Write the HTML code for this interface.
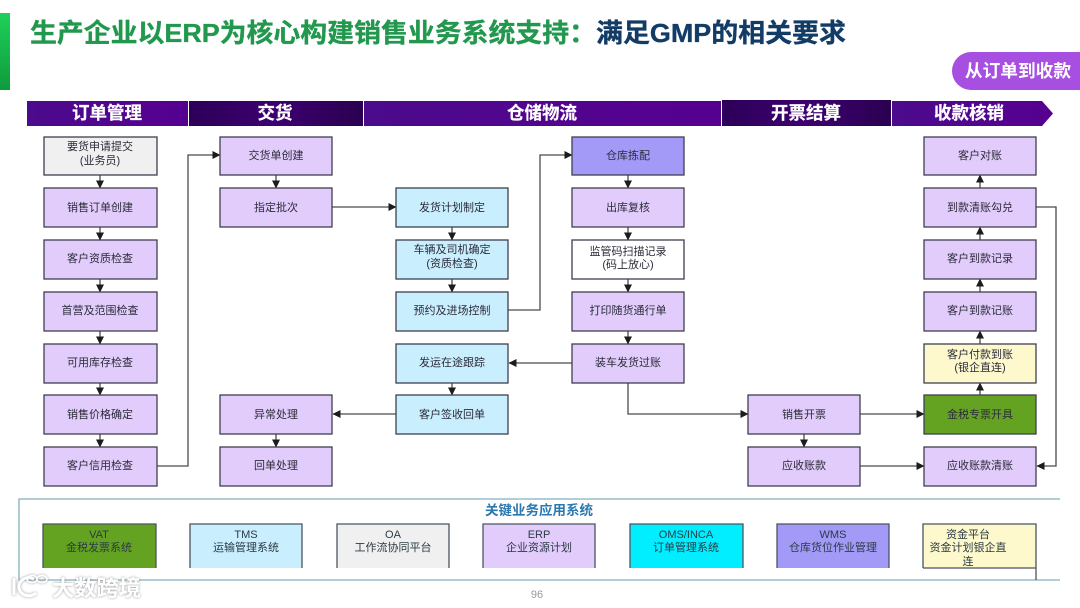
<!DOCTYPE html>
<html><head><meta charset="utf-8">
<style>
html,body{margin:0;padding:0;background:#fff;width:1080px;height:608px;overflow:hidden}
svg{display:block;filter:blur(.35px)}
text{font-family:"Liberation Sans","Noto Sans CJK SC",sans-serif}
.n rect{stroke:#3f3f50;stroke-width:1.3}
.n text{font-size:11px;fill:#2b2b3a;text-anchor:middle}
.h text{font-size:17.500px;font-weight:700;fill:#fff;text-anchor:middle;stroke:#fff;stroke-width:.2}
.c path{fill:none;stroke:#4a4a4a;stroke-width:1.3}
.s text{font-size:11px;fill:#2b3a44;text-anchor:middle}
.s path{fill:none;stroke:#4a5560;stroke-width:1.3}
</style></head><body>
<svg width="1080" height="608" viewBox="0 0 1080 608" xmlns="http://www.w3.org/2000/svg">
<defs>
<linearGradient id="g" x1="0" y1="0" x2="0" y2="1"><stop offset="0" stop-color="#1fd05a"/><stop offset="1" stop-color="#0f9a3c"/></linearGradient>
<linearGradient id="p1" x1="0" y1="0" x2="1" y2="0"><stop offset="0" stop-color="#4c0a8c"/><stop offset="1" stop-color="#560090"/></linearGradient>
<linearGradient id="p2" x1="0" y1="0" x2="1" y2="0"><stop offset="0" stop-color="#2c0058"/><stop offset=".5" stop-color="#3d0070"/><stop offset="1" stop-color="#2a0050"/></linearGradient>
<marker id="a" viewBox="0 0 8 8" refX="7.500" refY="4" markerWidth="8" markerHeight="8" markerUnits="userSpaceOnUse" orient="auto"><path d="M0 0L8 4L0 8Z" fill="#1c1c1c"/></marker>
<filter id="w"><feDropShadow dx="0" dy="0" stdDeviation="1.200" flood-color="#888" flood-opacity=".9"/></filter>
</defs>

<rect x="0" y="13" width="10" height="77" fill="url(#g)"/>
<text x="30" y="42" font-size="26" font-weight="700" fill="#22984e" stroke="#22984e" stroke-width=".35" textLength="566" lengthAdjust="spacingAndGlyphs">生产企业以ERP为核心构建销售业务系统支持：</text>
<text x="596" y="42" font-size="26" font-weight="700" fill="#123c66" stroke="#123c66" stroke-width=".35" textLength="250" lengthAdjust="spacingAndGlyphs">满足GMP的相关要求</text>

<path d="M1080 52H971a19 19 0 0 0 0 38H1080Z" fill="#a64fe0"/>
<text x="1018" y="77" font-size="17.700" font-weight="700" fill="#fff" text-anchor="middle">从订单到收款</text>

<g class="h">
<rect x="27" y="101" width="161" height="25" fill="url(#p1)"/>
<rect x="189" y="101" width="174" height="25" fill="url(#p2)"/>
<rect x="364" y="101" width="357" height="25" fill="url(#p1)"/>
<rect x="722" y="100" width="169" height="26" fill="url(#p2)"/>
<path d="M892 101H1042L1053 113.500L1042 126H892Z" fill="url(#p1)"/>
<text x="107" y="119">订单管理</text>
<text x="275" y="119">交货</text>
<text x="542" y="119">仓储物流</text>
<text x="806" y="119">开票结算</text>
<text x="969" y="119">收款核销</text>
</g>

<g class="c">
<path d="M100 175V188" marker-end="url(#a)"/><path d="M100 227V240" marker-end="url(#a)"/><path d="M100 279V292" marker-end="url(#a)"/><path d="M100 331V344" marker-end="url(#a)"/><path d="M100 383V395" marker-end="url(#a)"/><path d="M100 434V447" marker-end="url(#a)"/>
<path d="M157 466H188V155H220" marker-end="url(#a)"/>
<path d="M276 175V188" marker-end="url(#a)"/>
<path d="M332 207H396" marker-end="url(#a)"/>
<path d="M452 227V240" marker-end="url(#a)"/><path d="M452 279V292" marker-end="url(#a)"/>
<path d="M508 310H540V155H572" marker-end="url(#a)"/>
<path d="M628 175V188" marker-end="url(#a)"/><path d="M628 227V240" marker-end="url(#a)"/><path d="M628 279V292" marker-end="url(#a)"/><path d="M628 331V344" marker-end="url(#a)"/>
<path d="M572 363H509" marker-end="url(#a)"/>
<path d="M452 383V395" marker-end="url(#a)"/>
<path d="M396 414H333" marker-end="url(#a)"/>
<path d="M276 434V447" marker-end="url(#a)"/>
<path d="M628 383V414H748" marker-end="url(#a)"/>
<path d="M860 414H924" marker-end="url(#a)"/>
<path d="M804 434V447" marker-end="url(#a)"/>
<path d="M860 466H924" marker-end="url(#a)"/>
<path d="M980 395V383" marker-end="url(#a)"/><path d="M980 344V331" marker-end="url(#a)"/><path d="M980 292V279" marker-end="url(#a)"/><path d="M980 240V227" marker-end="url(#a)"/><path d="M980 188V175" marker-end="url(#a)"/>
<path d="M1036 207H1056V466H1037" marker-end="url(#a)"/>
</g>

<g class="n">
<rect x="44" y="137" width="113" height="38" fill="#f0f0f0"/><text x="100" y="150">要货申请提交</text><text x="100" y="164">(业务员)</text>
<rect x="44" y="188" width="113" height="39" fill="#e2ccfb"/><text x="100" y="211">销售订单创建</text>
<rect x="44" y="240" width="113" height="39" fill="#e2ccfb"/><text x="100" y="262">客户资质检查</text>
<rect x="44" y="292" width="113" height="39" fill="#e2ccfb"/><text x="100" y="314">首营及范围检查</text>
<rect x="44" y="344" width="113" height="39" fill="#e2ccfb"/><text x="100" y="366">可用库存检查</text>
<rect x="44" y="395" width="113" height="39" fill="#e2ccfb"/><text x="100" y="418">销售价格确定</text>
<rect x="44" y="447" width="113" height="39" fill="#e2ccfb"/><text x="100" y="469">客户信用检查</text>

<rect x="220" y="137" width="112" height="38" fill="#e2ccfb"/><text x="276" y="159">交货单创建</text>
<rect x="220" y="188" width="112" height="39" fill="#e2ccfb"/><text x="276" y="211">指定批次</text>
<rect x="220" y="395" width="112" height="39" fill="#e2ccfb"/><text x="276" y="418">异常处理</text>
<rect x="220" y="447" width="112" height="39" fill="#e2ccfb"/><text x="276" y="469">回单处理</text>

<rect x="396" y="188" width="112" height="39" fill="#c9eefd"/><text x="452" y="211">发货计划制定</text>
<rect x="396" y="240" width="112" height="39" fill="#c9eefd"/><text x="452" y="253">车辆及司机确定</text><text x="452" y="267">(资质检查)</text>
<rect x="396" y="292" width="112" height="39" fill="#c9eefd"/><text x="452" y="314">预约及进场控制</text>
<rect x="396" y="344" width="112" height="39" fill="#c9eefd"/><text x="452" y="366">发运在途跟踪</text>
<rect x="396" y="395" width="112" height="39" fill="#c9eefd"/><text x="452" y="418">客户签收回单</text>

<rect x="572" y="137" width="112" height="38" fill="#a39af7"/><text x="628" y="159">仓库拣配</text>
<rect x="572" y="188" width="112" height="39" fill="#e2ccfb"/><text x="628" y="211">出库复核</text>
<rect x="572" y="240" width="112" height="39" fill="#ffffff"/><text x="628" y="255">监管码扫描记录</text><text x="628" y="268">(码上放心)</text>
<rect x="572" y="292" width="112" height="39" fill="#e2ccfb"/><text x="628" y="314">打印随货通行单</text>
<rect x="572" y="344" width="112" height="39" fill="#e2ccfb"/><text x="628" y="366">装车发货过账</text>

<rect x="748" y="395" width="112" height="39" fill="#e2ccfb"/><text x="804" y="418">销售开票</text>
<rect x="748" y="447" width="112" height="39" fill="#e2ccfb"/><text x="804" y="469">应收账款</text>

<rect x="924" y="137" width="112" height="38" fill="#e2ccfb"/><text x="980" y="159">客户对账</text>
<rect x="924" y="188" width="112" height="39" fill="#e2ccfb"/><text x="980" y="211">到款清账勾兑</text>
<rect x="924" y="240" width="112" height="39" fill="#e2ccfb"/><text x="980" y="262">客户到款记录</text>
<rect x="924" y="292" width="112" height="39" fill="#e2ccfb"/><text x="980" y="314">客户到款记账</text>
<rect x="924" y="344" width="112" height="39" fill="#fdf9cc"/><text x="980" y="358">客户付款到账</text><text x="980" y="371">(银企直连)</text>
<rect x="924" y="395" width="112" height="39" fill="#64a322"/><text x="980" y="418">金税专票开具</text>
<rect x="924" y="447" width="112" height="39" fill="#e2ccfb"/><text x="980" y="469">应收账款清账</text>
</g>

<path d="M1060 499H19V580H1060" fill="none" stroke="#7fb0c0" stroke-width="1.300"/>
<text x="539" y="515" font-size="13.500" font-weight="700" fill="#2a78b0" text-anchor="middle">关键业务应用系统</text>

<g class="s">
<rect x="43" y="524" width="113" height="44" fill="#64a322"/><path d="M43 568V524H156V568"/><text x="99" y="538">VAT</text><text x="99" y="551">金税发票系统</text>
<rect x="190" y="524" width="112" height="44" fill="#c9eefd"/><path d="M190 568V524H302V568"/><text x="246" y="538">TMS</text><text x="246" y="551">运输管理系统</text>
<rect x="337" y="524" width="112" height="44" fill="#f0f0f0"/><path d="M337 568V524H449V568"/><text x="393" y="538">OA</text><text x="393" y="551">工作流协同平台</text>
<rect x="483" y="524" width="112" height="44" fill="#e2ccfb"/><path d="M483 568V524H595V568"/><text x="539" y="538">ERP</text><text x="539" y="551">企业资源计划</text>
<rect x="630" y="524" width="113" height="44" fill="#00eeff"/><path d="M630 568V524H743V568"/><text x="686" y="538">OMS/INCA</text><text x="686" y="551">订单管理系统</text>
<rect x="777" y="524" width="112" height="44" fill="#a39af7"/><path d="M777 568V524H889V568"/><text x="833" y="538">WMS</text><text x="833" y="551">仓库货位作业管理</text>
<rect x="923" y="524" width="113" height="44" fill="#fdf9cc"/><path d="M923 568V524H1036V580M923 568H1036"/><text x="968" y="538">资金平台</text><text x="968" y="551">资金计划银企直</text><text x="968" y="565">连</text>
</g>

<text x="537" y="598" font-size="11" fill="#999" text-anchor="middle">96</text>

<g filter="url(#w)">
<path d="M14 578V595M34 579a10 9 0 1 0 2 14" fill="none" stroke="#fff" stroke-width="3"/>
<ellipse cx="32" cy="579" rx="5" ry="3.500" fill="none" stroke="#fff" stroke-width="1.500"/>
<ellipse cx="42" cy="579" rx="5" ry="3.500" fill="none" stroke="#fff" stroke-width="1.500"/>
<text x="52" y="596" font-size="22" font-weight="700" fill="#fff" textLength="89" lengthAdjust="spacingAndGlyphs">大数跨境</text>
</g>
</svg>
</body></html>
